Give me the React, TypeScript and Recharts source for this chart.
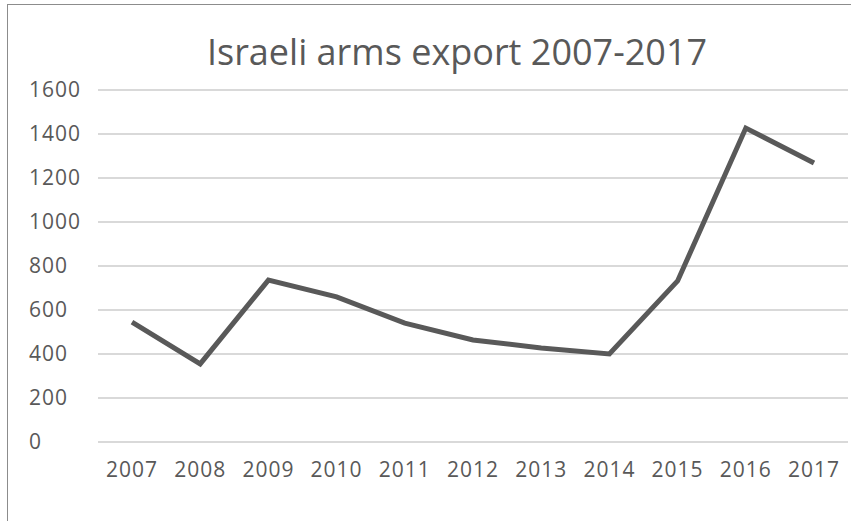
import { LineChart, Line, XAxis, YAxis, CartesianGrid } from 'recharts';

const years = ['2007', '2008', '2009', '2010', '2011', '2012', '2013', '2014', '2015', '2016', '2017'];
const exports = [545, 355, 736, 660, 540, 464, 427, 400, 732, 1427, 1268];
const yTicks = [0, 200, 400, 600, 800, 1000, 1200, 1400, 1600];

const data = years.map((year, i) => ({ year, value: exports[i] }));

const FONT = '"Open Sans", sans-serif';
const TEXT = '#595959';

const YTick = ({ y, payload }: any) => (
  <text x={29} y={y} dy={7} textAnchor="start" fill={TEXT} fontSize={21} letterSpacing={1} fontFamily={FONT}>
    {payload.value}
  </text>
);

export default function App() {
  return (
    <div style={{ position: 'fixed', left: 0, top: 0, width: 851, height: 521, background: '#fff' }}>
      <div style={{
        position: 'absolute',
        left: 7,
        top: 4,
        width: 844,
        height: 517,
        borderLeft: '1.5px solid #8c8c8c',
        borderTop: '1.5px solid #8c8c8c',
      }} />
      <div style={{
        position: 'absolute',
        left: 0,
        width: 914,
        top: 27,
        textAlign: 'center',
        fontFamily: FONT,
        fontSize: 36,
        color: TEXT,
      }}>
        Israeli arms export 2007-2017
      </div>
      <div style={{ position: 'absolute', left: 0, top: 0 }}>
        <LineChart width={851} height={521} data={data} margin={{ top: 90, right: 3, bottom: 49, left: 0 }}>
          <CartesianGrid vertical={false} stroke="#d9d9d9" strokeWidth={2} />
          <XAxis
            dataKey="year"
            axisLine={false}
            tickLine={false}
            height={30}
            padding={{ left: 34, right: 34 }}
            interval={0}
            tick={{ fill: TEXT, fontSize: 21, fontFamily: FONT, letterSpacing: 1 }}
            tickMargin={14}
          />
          <YAxis
            width={98}
            domain={[0, 1600]}
            ticks={yTicks}
            axisLine={false}
            tickLine={false}
            tick={<YTick />}
          />
          <Line
            type="linear"
            dataKey="value"
            stroke="#595959"
            strokeWidth={5}
            dot={false}
            isAnimationActive={false}
          />
        </LineChart>
      </div>
    </div>
  );
}
